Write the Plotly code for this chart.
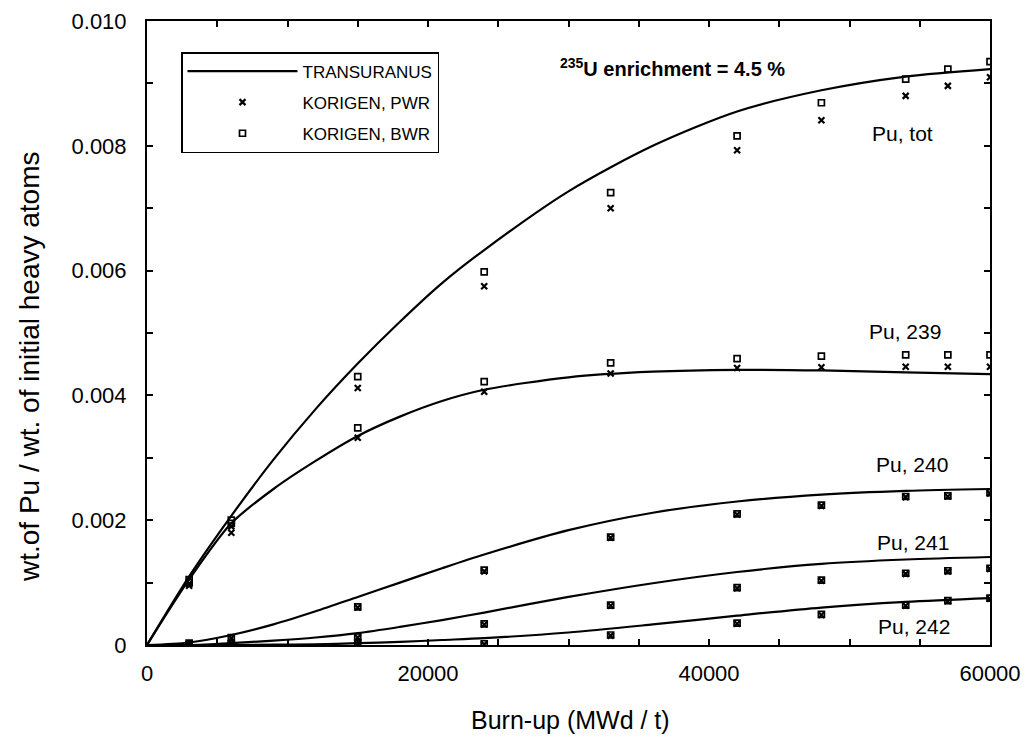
import plotly.graph_objects as go

# ---- TRANSURANUS curves ----
curve_x = [0, 3000, 6000, 9000, 12000, 15000, 18000, 21000, 24000, 30000, 36000, 42000, 48000, 54000, 60000]
pu_tot_curve = [0, 0.00110, 0.00207, 0.00297, 0.00378, 0.00451, 0.00518, 0.00580, 0.00633, 0.00727, 0.00800, 0.00855, 0.00889, 0.00911, 0.00923]
pu239_curve = [0, 0.00105, 0.00195, 0.00250, 0.00295, 0.00335, 0.00366, 0.00391, 0.00409, 0.00429, 0.00438, 0.00441, 0.00440, 0.00437, 0.00434]
pu240_curve = [0, 0.00004, 0.00016, 0.00033, 0.00054, 0.00077, 0.00100, 0.00123, 0.00145, 0.00184, 0.00212, 0.00230, 0.00241, 0.00247, 0.00250]
pu241_curve = [0, 0.0, 0.00003, 0.00007, 0.00012, 0.00019, 0.00029, 0.00040, 0.00052, 0.00077, 0.00099, 0.00117, 0.00130, 0.00137, 0.00141]
pu242_curve = [0, 0.0, 0.0, 0.000005, 0.00001, 0.00003, 0.00005, 0.00008, 0.00011, 0.00020, 0.00033, 0.00047, 0.00060, 0.00069, 0.00075]

# ---- KORIGEN points ----
pt_x = [3000, 6000, 15000, 24000, 33000, 42000, 48000, 54000, 57000, 60000]
pu_tot_pwr = [0.00098, 0.00190, 0.00412, 0.00575, 0.00700, 0.00793, 0.00841, 0.00880, 0.00896, 0.00910]
pu_tot_bwr = [0.00105, 0.00200, 0.00430, 0.00598, 0.00725, 0.00816, 0.00869, 0.00907, 0.00923, 0.00935]
pu239_pwr = [0.00095, 0.00180, 0.00332, 0.00406, 0.00435, 0.00444, 0.00445, 0.00446, 0.00446, 0.00446]
pu239_bwr = [0.00100, 0.00195, 0.00348, 0.00422, 0.00452, 0.00459, 0.00463, 0.00465, 0.00465, 0.00465]
pu240_pwr = [0.00002, 0.00011, 0.00060, 0.00118, 0.00172, 0.00209, 0.00223, 0.00237, 0.00238, 0.00243]
pu240_bwr = [0.00003, 0.00012, 0.00061, 0.00120, 0.00173, 0.00210, 0.00224, 0.00238, 0.00239, 0.00244]
pu241_pwr = [0.0, 0.00001, 0.00012, 0.00033, 0.00063, 0.00091, 0.00103, 0.00114, 0.00118, 0.00122]
pu241_bwr = [0.0, 0.00002, 0.00013, 0.00034, 0.00064, 0.00092, 0.00104, 0.00115, 0.00119, 0.00123]
pu242_pwr = [0.0, 0.0, 0.00002, 0.00001, 0.00015, 0.00034, 0.00048, 0.00063, 0.00070, 0.00074]
pu242_bwr = [0.0, 0.0, 0.00003, 0.00002, 0.00016, 0.00035, 0.00049, 0.00064, 0.00071, 0.00075]

x_tick_vals = [0, 20000, 40000, 60000]
x_tick_text = ["0", "20000", "40000", "60000"]
y_tick_vals = [0, 0.002, 0.004, 0.006, 0.008, 0.010]
y_tick_text = ["0", "0.002", "0.004", "0.006", "0.008", "0.010"]

curve_labels = ["Pu, tot", "Pu, 239", "Pu, 240", "Pu, 241", "Pu, 242"]
label_x = [53800, 53950, 54450, 54520, 54590]
label_y = [0.00820, 0.00502, 0.00289, 0.00164, 0.00029]

FONT = "Liberation Sans Narrow, Arial Narrow, Liberation Sans, Arial, sans-serif"

fig = go.Figure()

curves = [pu_tot_curve, pu239_curve, pu240_curve, pu241_curve, pu242_curve]
for i, c in enumerate(curves):
    fig.add_trace(go.Scatter(x=curve_x, y=c, mode="lines",
                             line=dict(color="black", width=2.2, shape="spline", smoothing=0.8),
                             name="TRANSURANUS", legendgroup="tr", showlegend=(i == 0)))

pwr_sets = [pu_tot_pwr, pu239_pwr, pu240_pwr, pu241_pwr, pu242_pwr]
bwr_sets = [pu_tot_bwr, pu239_bwr, pu240_bwr, pu241_bwr, pu242_bwr]
for i, s in enumerate(pwr_sets):
    fig.add_trace(go.Scatter(x=pt_x, y=s, mode="markers",
                             marker=dict(symbol="x-thin", size=6, color="black",
                                         line=dict(color="black", width=2.2)),
                             name="KORIGEN, PWR", legendgroup="pwr", showlegend=(i == 0)))
for i, s in enumerate(bwr_sets):
    fig.add_trace(go.Scatter(x=pt_x, y=s, mode="markers",
                             marker=dict(symbol="square-open", size=6, color="black",
                                         line=dict(color="black", width=1.7)),
                             name="KORIGEN, BWR", legendgroup="bwr", showlegend=(i == 0)))

for t, xx, yy in zip(curve_labels, label_x, label_y):
    fig.add_annotation(x=xx, y=yy, text=t, showarrow=False, xref="x", yref="y",
                       xanchor="center", yanchor="middle",
                       font=dict(family=FONT, size=21, color="black"))

fig.add_annotation(x=(672 - 147) / 843, y=(645 - 68) / 624, xref="paper", yref="paper",
                   xanchor="center", yanchor="middle",
                   text="<sup>235</sup>U enrichment = 4.5 %", showarrow=False,
                   font=dict(family=FONT, size=20, color="black", weight="bold"))

fig.add_annotation(x=(29 - 147) / 843, y=(645 - 367) / 624, xref="paper", yref="paper",
                   xanchor="center", yanchor="middle",
                   text="wt.of Pu / wt. of initial heavy atoms", textangle=-90, showarrow=False,
                   font=dict(family=FONT, size=28, color="black"))
fig.add_annotation(x=(570 - 147) / 843, y=(645 - 720) / 624, xref="paper", yref="paper",
                   xanchor="center", yanchor="middle",
                   text="Burn-up (MWd / t)", showarrow=False,
                   font=dict(family=FONT, size=25, color="black"))

axis_common = dict(showgrid=False, zeroline=False, showline=True, linecolor="black", linewidth=2,
                   mirror="ticks", ticks="inside", ticklen=6, tickwidth=1.5, tickcolor="black",
                   automargin=False,
                   tickfont=dict(family=FONT, size=22, color="black"))

fig.update_xaxes(range=[0, 60000], tickvals=x_tick_vals, ticktext=x_tick_text,
                 ticklabelstandoff=8,
                 minor=dict(dtick=5000, ticks="inside", ticklen=6, tickcolor="black", tickwidth=1.5),
                 **axis_common)
fig.update_yaxes(range=[0, 0.010], tickvals=y_tick_vals, ticktext=y_tick_text,
                 ticklabelstandoff=14,
                 minor=dict(dtick=0.001, ticks="inside", ticklen=6, tickcolor="black", tickwidth=1.5),
                 **axis_common)

fig.update_layout(
    width=1025, height=749,
    margin=dict(l=147, r=35, t=21, b=104, autoexpand=False),
    plot_bgcolor="white", paper_bgcolor="white",
    showlegend=True,
    legend=dict(x=(181 - 147) / 843, y=(645 - 52) / 624, xanchor="left", yanchor="top",
                bordercolor="black", borderwidth=1.5, bgcolor="white",
                font=dict(family=FONT, size=17, color="black"),
                itemwidth=110, traceorder="grouped", tracegroupgap=6),
)

fig.write_html("out.html",
               config={"displayModeBar": False},
               post_script="document.body.style.margin='0px';document.body.style.overflow='hidden';")
